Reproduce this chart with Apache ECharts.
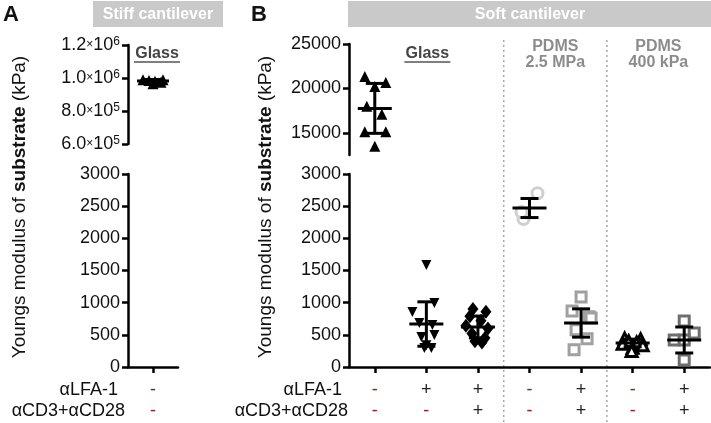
<!DOCTYPE html>
<html><head><meta charset="utf-8">
<script src="https://cdn.jsdelivr.net/npm/echarts@6/dist/echarts.min.js"></script>
<style>html,body{margin:0;padding:0;background:#fff}#c{width:711px;height:423px}</style>
</head><body><div id="c"></div>
<script>
const FONT = '"Liberation Sans", Arial, sans-serif';

// ---------- Panel A (stiff cantilever) ----------
const catsA = ['Glass'];
const lfaA = ['-'];
const cd3A = ['-'];
const glassStiff = [990000, 985000, 980000, 975000, 965000, 990000];
const meanA = [982000];
const sdA = [9000];

// ---------- Panel B (soft cantilever) ----------
const catsB = ['Glass ctrl', 'Glass aLFA-1', 'Glass aLFA-1+aCD3/28', 'PDMS 2.5 ctrl', 'PDMS 2.5 aLFA-1+aCD3/28', 'PDMS 400 ctrl', 'PDMS 400 aLFA-1+aCD3/28'];
const lfaB = ['-', '+', '+', '-', '+', '-', '+'];
const cd3B = ['-', '-', '+', '-', '+', '-', '+'];
const glassCtrl = [21350, 20670, 20220, 17980, 17080, 15110, 15110, 13480];
const glassLfa = [1585, 855, 995, 684, 653, 466, 497, 295, 295, 340];
const glassLfaCd3 = [900, 860, 790, 720, 640, 600, 520, 450, 400, 380];
const pdms25Ctrl = [2700, 2300, 2410];
const pdms25LfaCd3 = [1090, 870, 780, 760, 580, 440, 270];
const pdms400Ctrl = [440, 430, 400, 380, 360, 340, 300, 250];
const pdms400LfaCd3 = [715, 530, 420, 420, 110];
const meanB = [17750, 668, 622, 2471, 684, 373, 420];
const sdB = [2810, 345, 170, 148, 220, 60, 202];

// tick labels
const yTicksATop = [600000, 800000, 1000000, 1200000];
const yTicksBTop = [15000, 20000, 25000];
const yTicksLow = [0, 500, 1000, 1500, 2000, 2500, 3000];

// ---------- styles (horizontal jitter in px, not data) ----------
const jit = {
  glassStiff: [-10, -4, 2, 8, 0, 10],
  glassCtrl: [-10, 11, 0, -8, 7, -10, 11, 0],
  glassLfa: [0, -14, 8, -7, 6, -5, 8, -2, 5, 0],
  glassLfaCd3: [-5, 8, -8, 3, -12, 10, -6, 7, -3, 4],
  pdms25Ctrl: [8, -6, -8],
  pdms25LfaCd3: [0, -9, 8, 10, -5, 6, -7],
  pdms400Ctrl: [-8, 8, -4, 4, -10, 10, 0, -1],
  pdms400LfaCd3: [0, 10, -10, 0, 0]
};

const chart = echarts.init(document.getElementById('c'), null, {renderer: 'canvas'});

const axisLineStyle = {color: '#000', width: 2.5};
function yAx(grid, extra) {
  return Object.assign({
    gridIndex: grid, type: 'value',
    axisLine: {show: true, lineStyle: axisLineStyle},
    axisTick: {show: true, length: 6, lineStyle: {color: '#000', width: 2.5}},
    splitLine: {show: false},
    axisLabel: {margin: 8, color: '#111', fontSize: 18, fontFamily: FONT, formatter: v => String(v)}
  }, extra);
}
function xLabel(lfa, cd3) {
  return {
    interval: 0, margin: 13,
    formatter: (v, i) => {
      const k1 = lfa[i] === '-' ? 'm' : 'p';
      const k2 = cd3[i] === '-' ? 'm' : 'p';
      return '{' + k1 + '|' + lfa[i] + '}\n{' + k2 + '|' + cd3[i] + '}';
    },
    rich: {
      m: {color: '#8b2323', fontSize: 18, lineHeight: 21, fontFamily: FONT},
      p: {color: '#222', fontSize: 18, lineHeight: 21, fontFamily: FONT}
    }
  };
}
function xAx(grid, cats, show, lfa, cd3) {
  if (!show) return {gridIndex: grid, type: 'category', data: cats, show: false};
  return {
    gridIndex: grid, type: 'category', data: cats,
    axisLine: {show: true, lineStyle: axisLineStyle},
    axisTick: {show: true, alignWithLabel: true, length: 6, lineStyle: {color: '#000', width: 2.5}},
    axisLabel: xLabel(lfa, cd3)
  };
}
function sci(v) {
  const e = Math.floor(Math.log10(v) + 1e-9);
  const m = (v / Math.pow(10, e)).toFixed(1);
  return m + '{x|×}10{s|' + e + '}';
}

function pts(vals, cat, jt, xi, yi, sym) {
  return Object.assign({
    type: 'scatter', xAxisIndex: xi, yAxisIndex: yi, silent: true, z: 3,
    data: vals.map((v, i) => ({value: [cat, v], symbolOffset: [jt[i], 0]}))
  }, sym);
}
function errSeries(cats, means, sds, xi, yi, hw, cw) {
  return {
    type: 'custom', xAxisIndex: xi, yAxisIndex: yi, z: 6, silent: true,
    data: cats.map((c, k) => [c, means[k], sds[k]]),
    renderItem: (params, api) => {
      const c = api.value(0), m = api.value(1), s = api.value(2);
      const p = api.coord([c, m]);
      const t = api.coord([c, m + s]);
      const b = api.coord([c, m - s]);
      const st = {stroke: '#000', lineWidth: 3};
      return {type: 'group', children: [
        {type: 'line', shape: {x1: p[0] - hw, y1: p[1], x2: p[0] + hw, y2: p[1]}, style: st},
        {type: 'line', shape: {x1: p[0], y1: t[1], x2: p[0], y2: b[1]}, style: st},
        {type: 'line', shape: {x1: p[0] - cw, y1: t[1], x2: p[0] + cw, y2: t[1]}, style: st},
        {type: 'line', shape: {x1: p[0] - cw, y1: b[1], x2: p[0] + cw, y2: b[1]}, style: st}
      ]};
    }
  };
}

const triUp = {symbol: 'triangle', symbolSize: 11, itemStyle: {color: '#000', opacity: 1}};
const triDown = {symbol: 'triangle', symbolRotate: 180, symbolSize: 10, itemStyle: {color: '#000', opacity: 1}};
const diamond = {symbol: 'diamond', symbolSize: [11, 14], itemStyle: {color: '#000', opacity: 1}};
const openCircle = {symbol: 'circle', symbolSize: 11, itemStyle: {color: '#fff', borderColor: '#cfcfcf', borderWidth: 3, opacity: 1}};
const openSqLight = {symbol: 'rect', symbolSize: 10, itemStyle: {color: '#fff', borderColor: '#a0a0a0', borderWidth: 3, opacity: 1}};
const openTri = {symbol: 'triangle', symbolSize: 11, itemStyle: {color: '#fff', borderColor: '#000', borderWidth: 3, opacity: 1}};
const openSqDark = {symbol: 'rect', symbolSize: 10, itemStyle: {color: '#fff', borderColor: '#6e6e6e', borderWidth: 3, opacity: 1}};

const topB = [], lowB = [];
meanB.forEach((m, i) => (m > 3000 ? topB : lowB).push(i));

chart.setOption({
  animation: false,
  backgroundColor: '#fff',
  textStyle: {fontFamily: FONT},
  grid: [
    {left: 128, top: 45, width: 50, height: 99},
    {left: 128, top: 174, width: 50, height: 193},
    {left: 349, top: 44, width: 361, height: 111},
    {left: 349, top: 174, width: 361, height: 193}
  ],
  xAxis: [
    xAx(0, catsA, false),
    xAx(1, catsA, true, lfaA, cd3A),
    xAx(2, catsB, false),
    xAx(3, catsB, true, lfaB, cd3B)
  ],
  yAxis: [
    yAx(0, {min: yTicksATop[0], max: yTicksATop[yTicksATop.length - 1], interval: yTicksATop[1] - yTicksATop[0],
      axisLabel: {margin: 8, color: '#111', fontSize: 18, fontFamily: FONT, formatter: sci,
        rich: {x: {fontSize: 12, color: '#111', fontFamily: FONT}, s: {fontSize: 12, color: '#111', verticalAlign: 'top', fontFamily: FONT}}}}),
    yAx(1, {min: yTicksLow[0], max: yTicksLow[yTicksLow.length - 1], interval: yTicksLow[1] - yTicksLow[0]}),
    yAx(2, {min: 12500, max: yTicksBTop[yTicksBTop.length - 1],
      axisLabel: {margin: 8, color: '#111', fontSize: 18, fontFamily: FONT, customValues: yTicksBTop, formatter: v => String(v)},
      axisTick: {show: true, length: 6, lineStyle: {color: '#000', width: 2.5}, customValues: yTicksBTop}}),
    yAx(3, {min: yTicksLow[0], max: yTicksLow[yTicksLow.length - 1], interval: yTicksLow[1] - yTicksLow[0]})
  ],
  series: [
    pts(glassStiff, 0, jit.glassStiff, 0, 0, triUp),
    errSeries([0], meanA, sdA, 0, 0, 16, 8),
    pts(glassCtrl, 0, jit.glassCtrl, 2, 2, triUp),
    pts(glassLfa, 1, jit.glassLfa, 3, 3, triDown),
    pts(glassLfaCd3, 2, jit.glassLfaCd3, 3, 3, diamond),
    pts(pdms25Ctrl, 3, jit.pdms25Ctrl, 3, 3, openCircle),
    pts(pdms25LfaCd3, 4, jit.pdms25LfaCd3, 3, 3, openSqLight),
    pts(pdms400Ctrl, 5, jit.pdms400Ctrl, 3, 3, openTri),
    pts(pdms400LfaCd3, 6, jit.pdms400LfaCd3, 3, 3, openSqDark),
    errSeries(topB, topB.map(i => meanB[i]), topB.map(i => sdB[i]), 2, 2, 17, 9),
    errSeries(lowB, lowB.map(i => meanB[i]), lowB.map(i => sdB[i]), 3, 3, 17, 9)
  ]
});

// decorations positioned from the axes
const cx = i => chart.convertToPixel({xAxisIndex: 3}, i);
const cxA = chart.convertToPixel({xAxisIndex: 1}, 0);
const sep1 = (cx(2) + cx(3)) / 2;
const sep2 = (cx(4) + cx(5)) / 2;
const pd1 = (cx(3) + cx(4)) / 2;
const pd2 = (cx(5) + cx(6)) / 2;
const gB = cx(1);

function txt(x, y, text, o) {
  return {type: 'text', x: x, y: y, silent: true, z: 10, style: Object.assign({text: text, fontFamily: FONT, fontSize: 18, fill: '#111', align: 'center', verticalAlign: 'middle'}, o || {})};
}
const titleRich = {
  n: {fontSize: 19, fontFamily: FONT, fill: '#111', color: '#111'},
  b: {fontSize: 19, fontFamily: FONT, fontWeight: 'bold', fill: '#111', color: '#111'}
};
const titleText = '{n|Youngs modulus of }{b|substrate}{n| (kPa)}';
const dotted = {stroke: '#a8a8a8', lineWidth: 1.5, lineDash: [2, 3]};

chart.setOption({
  graphic: [
    // panel letters
    txt(11, 15, 'A', {fontSize: 22, fontWeight: 'bold'}),
    txt(259, 15, 'B', {fontSize: 22, fontWeight: 'bold'}),
    // header boxes
    {type: 'rect', silent: true, shape: {x: 93, y: 1, width: 130, height: 26}, style: {fill: '#c9c9c9'}},
    txt(158, 14.5, 'Stiff cantilever', {fontSize: 16, fontWeight: 'bold', fill: '#fff'}),
    {type: 'rect', silent: true, shape: {x: 348, y: 1, width: 363, height: 26}, style: {fill: '#c9c9c9'}},
    txt(530, 14.5, 'Soft cantilever', {fontSize: 16, fontWeight: 'bold', fill: '#fff'}),
    // group labels
    txt(cxA + 4, 54, 'Glass', {fontSize: 16, fontWeight: 'bold', fill: '#444'}),
    {type: 'line', silent: true, shape: {x1: cxA - 19, y1: 62, x2: cxA + 27, y2: 62}, style: {stroke: '#555', lineWidth: 1.5}},
    txt(gB + 1, 54, 'Glass', {fontSize: 16, fontWeight: 'bold', fill: '#444'}),
    {type: 'line', silent: true, shape: {x1: gB - 22, y1: 62, x2: gB + 24, y2: 62}, style: {stroke: '#555', lineWidth: 1.5}},
    txt(pd1, 47, 'PDMS', {fontSize: 16, fontWeight: 'bold', fill: '#8c8c8c'}),
    txt(pd1, 63, '2.5 MPa', {fontSize: 16, fontWeight: 'bold', fill: '#8c8c8c'}),
    txt(pd2, 47, 'PDMS', {fontSize: 16, fontWeight: 'bold', fill: '#8c8c8c'}),
    txt(pd2, 63, '400 kPa', {fontSize: 16, fontWeight: 'bold', fill: '#8c8c8c'}),
    // dotted separators
    {type: 'line', silent: true, shape: {x1: sep1, y1: 40, x2: sep1, y2: 423}, style: dotted},
    {type: 'line', silent: true, shape: {x1: sep2, y1: 40, x2: sep2, y2: 423}, style: dotted},
    // row labels
    txt(118, 390, 'αLFA-1', {align: 'right'}),
    txt(125, 411, 'αCD3+αCD28', {align: 'right'}),
    txt(342, 390, 'αLFA-1', {align: 'right'}),
    txt(348, 411, 'αCD3+αCD28', {align: 'right'}),
    // y-axis titles
    {type: 'text', x: 20, y: 207, rotation: Math.PI / 2, silent: true,
      style: {text: titleText, rich: titleRich, fontFamily: FONT, fontSize: 19, align: 'center', verticalAlign: 'middle'}},
    {type: 'text', x: 266, y: 207, rotation: Math.PI / 2, silent: true,
      style: {text: titleText, rich: titleRich, fontFamily: FONT, fontSize: 19, align: 'center', verticalAlign: 'middle'}}
  ]
});
</script>
</body></html>
